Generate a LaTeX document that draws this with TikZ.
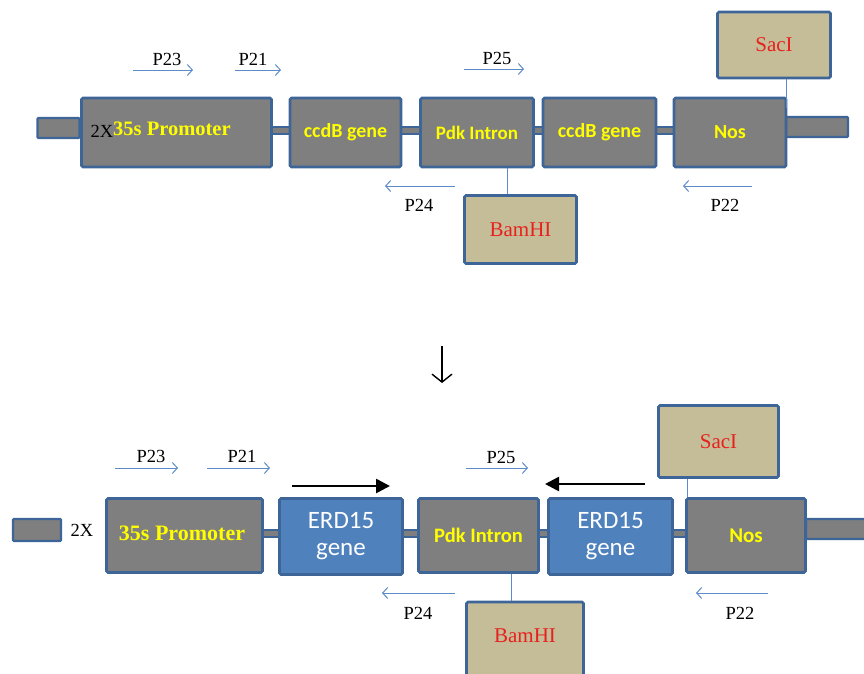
\documentclass[tikz,border=0pt]{standalone}
\usepackage{fontspec}
\setmainfont{Liberation Serif}
\newfontfamily\calib{Carlito}
\usetikzlibrary{arrows.meta}
\definecolor{bgray}{HTML}{7F7F7F}
\definecolor{bblue}{HTML}{3D6597}
\definecolor{btan}{HTML}{C4BD97}
\definecolor{erdblue}{HTML}{4F81BD}
\definecolor{primer}{HTML}{5B8BC9}
\definecolor{txtred}{HTML}{E8201E}
\definecolor{txtyel}{HTML}{FFFF00}
\tikzset{
  seg/.style={draw=bblue, line width=2.6pt, fill=bgray, rounded corners=1.5pt, inner sep=0pt, minimum height=69pt},
  erdseg/.style={seg, fill=erdblue, minimum height=76pt},
  site/.style={draw=bblue, line width=2.6pt, fill=btan, rounded corners=1.5pt, inner sep=0pt},
  stub/.style={draw=bblue, line width=2.2pt, fill=bgray, rounded corners=1pt, inner sep=0pt},
  backbone/.style={draw=bblue, line width=1.6pt, fill=bgray},
  sanslbl/.style={text=txtyel, font=\calib\bfseries\fontsize{19}{21}\selectfont},
  sanslblb/.style={text=txtyel, font=\calib\bfseries\fontsize{20.5}{23}\selectfont},
  seriflbl/.style={text=txtyel, font=\bfseries\fontsize{20.5}{23}\selectfont},
  seriflblb/.style={text=txtyel, font=\bfseries\fontsize{22}{24}\selectfont},
  erdlbl/.style={text=white, align=center, font=\calib\fontsize{25}{31}\selectfont},
  sitelbl/.style={text=txtred, font=\fontsize{21}{23}\selectfont},
  plbl/.style={text=black, font=\fontsize{18.5}{20}\selectfont, inner sep=0pt},
  primerarrow/.style={draw=primer, line width=1pt, -{Straight Barb[length=5pt,width=11pt]}},
  tick/.style={draw=primer, line width=1pt},
  bigarrow/.style={draw=black, line width=2.6pt, -{Triangle[length=14pt,width=14pt]}},
}
\begin{document}
\begin{tikzpicture}[x=1pt,y=-1pt]
\useasboundingbox (0,0) rectangle (864,673);
\clip (0,0) rectangle (864,673);
% ================= TOP CONSTRUCT =================
\path[backbone] (270,127) rectangle (676,134);
\node[stub, minimum width=42pt, minimum height=20pt] (stubL1) at (58.5,128) {};
\node[stub, minimum width=62pt, minimum height=20pt] (stubR1) at (817,127) {};
\node[seg, minimum width=190pt] (prom1) at (176.5,132.5) {};
\node[plbl] (twoX1) at (102,131) {2X};
\node[seriflbl, anchor=west, inner sep=0pt] (promtxt1) at (113,129) {35s Promoter};
\node[seg, minimum width=111pt] (ccdb1) at (345.5,132.5) {};
\node[sanslbl, font=\calib\bfseries\fontsize{20}{22}\selectfont] at (ccdb1) {ccdB gene};
\node[seg, minimum width=113pt] (pdk1) at (477,132.5) {};
\node[sanslbl] at (pdk1) {Pdk Intron};
\node[seg, minimum width=113pt] (ccdb2) at (599.5,132.5) {};
\node[sanslbl, font=\calib\bfseries\fontsize{20}{22}\selectfont] at (ccdb2) {ccdB gene};
\node[seg, minimum width=112pt] (nos1) at (730,132.5) {};
\node[sanslbl, font=\calib\bfseries\fontsize{20}{22}\selectfont] at (nos1) {Nos};
% restriction sites
\node[site, minimum width=113pt, minimum height=66pt] (sac1) at (774,45) {};
\node[sitelbl] at (sac1) {SacI};
\node[site, minimum width=112pt, minimum height=68pt] (bam1) at (520.5,229.5) {};
\node[sitelbl] at (bam1) {BamHI};
\coordinate (sacfoot1) at (786,108);
\draw[tick] (sac1.south -| sacfoot1) -- (sacfoot1);
\draw[tick] (pdk1.south -| 507,0) -- (bam1.north -| 507,0);
% primers
\coordinate (p23a) at (133,70); \coordinate (p23b) at (193,70);
\coordinate (p21a) at (235,70); \coordinate (p21b) at (281,70);
\coordinate (p25a) at (464,69); \coordinate (p25b) at (524,69);
\coordinate (p24a) at (455,186); \coordinate (p24b) at (385,186);
\coordinate (p22a) at (752,186); \coordinate (p22b) at (683,186);
\draw[primerarrow] (p23a) -- (p23b);
\draw[primerarrow] (p21a) -- (p21b);
\draw[primerarrow] (p25a) -- (p25b);
\draw[primerarrow] (p24a) -- (p24b);
\draw[primerarrow] (p22a) -- (p22b);
\node[plbl] (l23a) at (167,59) {P23};
\node[plbl] (l21a) at (253,59) {P21};
\node[plbl] (l25a) at (497,58) {P25};
\node[plbl] (l24a) at (419,205) {P24};
\node[plbl] (l22a) at (725,205) {P22};
% ================= DOWN ARROW =================
\coordinate (dA) at (442,346);
\coordinate (dB) at (442,383);
\draw[black, line width=1.4pt, -{Straight Barb[length=8pt,width=20pt]}] (dA) -- (dB);
% ================= BOTTOM CONSTRUCT =================
\path[backbone] (262,530) rectangle (690,537);
\node[stub, minimum width=48pt, minimum height=22pt] (stubL2) at (37,530) {};
\node[plbl] (twoX2) at (82,530) {2X};
\node[stub, minimum width=64pt, minimum height=20pt] (stubR2) at (838,529) {};
\node[seg, minimum width=156pt, minimum height=74pt] (prom2) at (184.5,535.5) {};
\node[seriflblb] at (182,533) {35s Promoter};
\node[erdseg, minimum width=123pt] (erd1) at (341,536.5) {};
\node[erdlbl] at (erd1) {ERD15\\[-4pt]gene};
\node[seg, minimum width=120pt, minimum height=74pt] (pdk2) at (478.5,535.5) {};
\node[sanslblb] at (pdk2) {Pdk Intron};
\node[erdseg, minimum width=124pt] (erd2) at (610.5,536.5) {};
\node[erdlbl] at (erd2) {ERD15\\[-4pt]gene};
\node[seg, minimum width=119pt, minimum height=74pt] (nos2) at (746,535.5) {};
\node[sanslblb, font=\calib\bfseries\fontsize{21}{23}\selectfont] at (nos2) {Nos};
% restriction sites
\node[site, minimum width=120pt, minimum height=72pt] (sac2) at (718.5,441.5) {};
\node[sitelbl] at (sac2) {SacI};
\node[site, minimum width=117pt, minimum height=78pt] (bam2) at (525,641) {};
\node[sitelbl] at (525,636) {BamHI};
\draw[tick] (sac2.south -| 687,0) -- (nos2.north -| 687,0);
\draw[tick] (pdk2.south -| 511,0) -- (bam2.north -| 511,0);
% ERD15 orientation arrows
\coordinate (e1a) at (292,486); \coordinate (e1b) at (390,486);
\coordinate (e2a) at (645,484); \coordinate (e2b) at (545,484);
\draw[bigarrow] (e1a) -- (e1b);
\draw[bigarrow] (e2a) -- (e2b);
% primers
\coordinate (q23a) at (115,468); \coordinate (q23b) at (178,468);
\coordinate (q21a) at (207,468); \coordinate (q21b) at (270,468);
\coordinate (q25a) at (466,468); \coordinate (q25b) at (528,468);
\coordinate (q24a) at (455,593); \coordinate (q24b) at (382,593);
\coordinate (q22a) at (768,593); \coordinate (q22b) at (696,593);
\draw[primerarrow] (q23a) -- (q23b);
\draw[primerarrow] (q21a) -- (q21b);
\draw[primerarrow] (q25a) -- (q25b);
\draw[primerarrow] (q24a) -- (q24b);
\draw[primerarrow] (q22a) -- (q22b);
\node[plbl] (l23b) at (151,456) {P23};
\node[plbl] (l21b) at (242,456) {P21};
\node[plbl] (l25b) at (501,457) {P25};
\node[plbl] (l24b) at (418,613) {P24};
\node[plbl] (l22b) at (740,613) {P22};
\end{tikzpicture}
\end{document}
